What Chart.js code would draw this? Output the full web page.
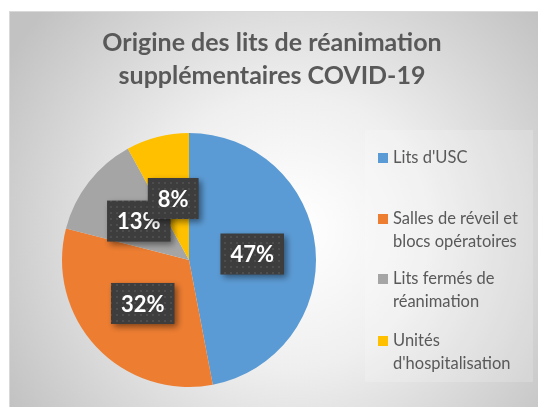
<!DOCTYPE html>
<html>
<head>
  <title>Origine des lits de réanimation</title>
  <script src="https://cdn.jsdelivr.net/npm/chart.js"></script>
  <style>
    html, body { margin: 0; padding: 0; background: #fff; }
    #wrap { width: 538px; height: 407px; }
  </style>
</head>
<body>
  <div id="wrap"><canvas id="chart" width="538" height="407"></canvas></div>
  <script>
    const titleLines = ["Origine des lits de réanimation", "supplémentaires COVID-19"];
    const categories = [
      ["Lits d'USC"],
      ["Salles de réveil et", "blocs opératoires"],
      ["Lits fermés de", "réanimation"],
      ["Unités", "d'hospitalisation"]
    ];
    const values = [47, 32, 13, 8];
    const sliceColors = ["#5B9BD5", "#ED7D31", "#A5A5A5", "#FFC000"];

    // layout of the hand-drawn parts
    const legendX = 378;
    const legendLineY = [158, 219, 279, 341];
    const legendLineH = 23;

    // dotted dark fill for the value boxes
    const pc = document.createElement("canvas");
    pc.width = 6; pc.height = 6;
    const pctx = pc.getContext("2d");
    pctx.fillStyle = "#3d3d3d";
    pctx.fillRect(0, 0, 6, 6);
    pctx.fillStyle = "#4d4d4d";
    pctx.fillRect(2, 2, 2, 2);

    const decor = {
      id: "decor",
      beforeDraw(chart) {
        const ctx = chart.ctx;
        ctx.save();
        const g = ctx.createRadialGradient(290, 230, 10, 290, 230, 330);
        g.addColorStop(0, "#ffffff");
        g.addColorStop(0.4, "#efefef");
        g.addColorStop(1, "#c2c2c2");
        ctx.fillStyle = g;
        ctx.fillRect(9, 11, 529, 396);
        ctx.strokeStyle = "#d9d9d9";
        ctx.strokeRect(9.5, 11.5, 530, 400);
        // legend panel
        ctx.fillStyle = "rgba(255,255,255,0.18)";
        ctx.fillRect(365, 130, 168, 252);

        ctx.fillStyle = "#595959";
        ctx.font = "bold 25px Lato";
        ctx.textAlign = "center";
        ctx.textBaseline = "middle";
        titleLines.forEach((t, i) => ctx.fillText(t, 272, 43 + i * 33));

        ctx.font = "16.5px Lato";
        ctx.textAlign = "left";
        categories.forEach((lines, i) => {
          const y0 = legendLineY[i];
          ctx.fillStyle = sliceColors[i];
          ctx.fillRect(legendX, y0 - 5, 10, 10);
          ctx.fillStyle = "#595959";
          lines.forEach((l, j) => ctx.fillText(l, legendX + 15, y0 + j * legendLineH));
        });
        ctx.restore();
      },
      afterDatasetsDraw(chart) {
        const ctx = chart.ctx;
        const meta = chart.getDatasetMeta(0);
        ctx.save();
        ctx.font = "bold 22px Lato";
        ctx.textAlign = "center";
        ctx.textBaseline = "middle";
        const pattern = ctx.createPattern(pc, "repeat");
        meta.data.forEach((arc, i) => {
          const p = arc.tooltipPosition();
          const txt = values[i] + "%";
          const w = ctx.measureText(txt).width + 20;
          const h = 41;
          ctx.save();
          ctx.shadowColor = "rgba(0,0,0,0.45)";
          ctx.shadowBlur = 6;
          ctx.shadowOffsetX = 3;
          ctx.shadowOffsetY = 3;
          ctx.fillStyle = pattern;
          ctx.fillRect(p.x - w / 2, p.y - h / 2, w, h);
          ctx.restore();
          ctx.fillStyle = "#ffffff";
          ctx.fillText(txt, p.x, p.y + 1);
        });
        ctx.restore();
      }
    };

    new Chart(document.getElementById("chart"), {
      type: "pie",
      data: {
        labels: categories.map(c => c.join(" ")),
        datasets: [{
          data: values,
          backgroundColor: sliceColors,
          borderWidth: 0
        }]
      },
      options: {
        responsive: false,
        animation: false,
        layout: { padding: { left: 62, right: 222, top: 133, bottom: 20 } },
        plugins: {
          legend: { display: false },
          title: { display: false },
          tooltip: { enabled: false }
        }
      },
      plugins: [decor]
    });
  </script>
</body>
</html>
